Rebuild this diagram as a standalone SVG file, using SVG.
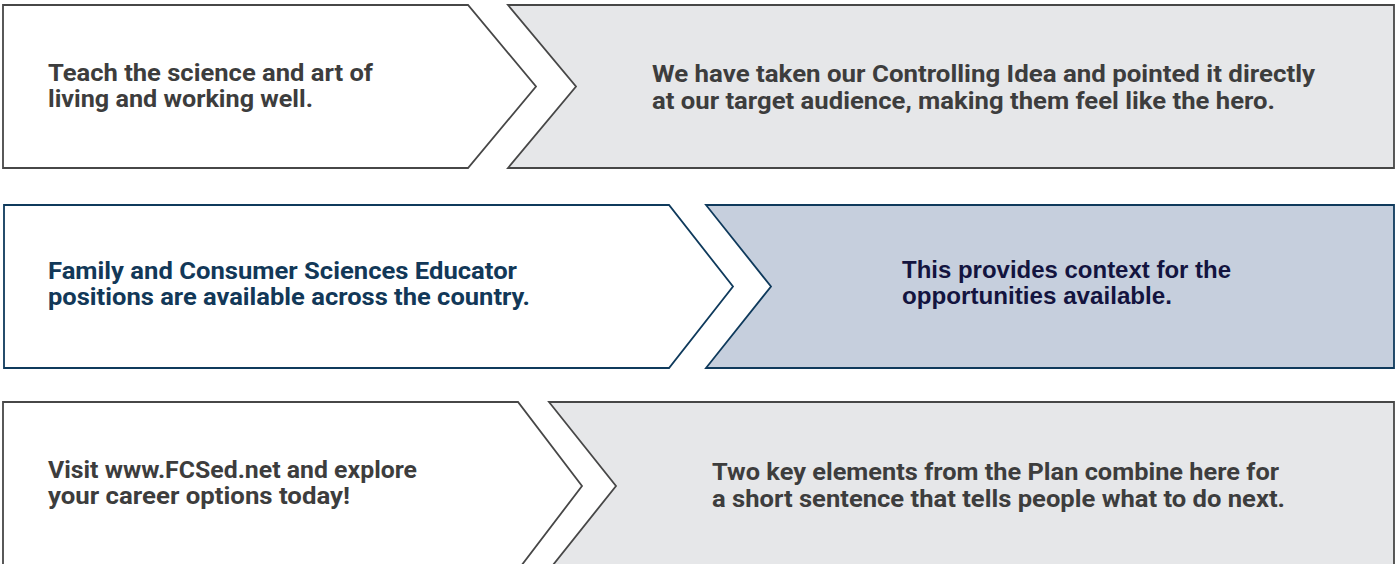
<svg xmlns="http://www.w3.org/2000/svg" width="1400" height="564" viewBox="0 0 1400 564">
<style>
.g{stroke:#474747;stroke-width:1.8;stroke-linejoin:miter}
.b{stroke:#0f3a5c;stroke-width:1.8;stroke-linejoin:miter}
.w{fill:#ffffff}
.lg{fill:#e6e7e9}
.lb{fill:#c6cfdd}
.tl{font-family:Roboto,"Liberation Sans",sans-serif;font-weight:bold;font-size:24px}
.tr{font-family:Roboto,"Liberation Sans",sans-serif;font-weight:bold;font-size:23px}
.tr2{font-family:"Liberation Sans",Arial,sans-serif;font-weight:bold;font-size:24px}
.cg{fill:#3d3d3d}
.cn{fill:#123858}
.cd{fill:#13143f}
</style>
<rect width="1400" height="564" fill="#ffffff"/>
<g id="row1-left">
<polygon class="g w" points="3,5 468,5 536,86.5 468,168 3,168"/>
<text class="tl cg" lengthAdjust="spacingAndGlyphs"><tspan x="48" y="81" textLength="325" lengthAdjust="spacingAndGlyphs">Teach the science and art of</tspan><tspan x="48" y="107" textLength="265" lengthAdjust="spacingAndGlyphs">living and working well.</tspan></text>
</g>
<g id="row1-right">
<polygon class="g lg" points="508,5 1394,5 1394,168 508,168 576,86.5"/>
<text class="tr cg"><tspan x="652" y="82" textLength="663" lengthAdjust="spacingAndGlyphs">We have taken our Controlling Idea and pointed it directly</tspan><tspan x="652" y="109" textLength="623" lengthAdjust="spacingAndGlyphs">at our target audience, making them feel like the hero.</tspan></text>
</g>
<g id="row2-left">
<polygon class="b w" points="4,205 669,205 733,286.5 669,368 4,368"/>
<text class="tl cn"><tspan x="48" y="279" textLength="469" lengthAdjust="spacingAndGlyphs">Family and Consumer Sciences Educator</tspan><tspan x="48" y="305" textLength="482" lengthAdjust="spacingAndGlyphs">positions are available across the country.</tspan></text>
</g>
<g id="row2-right">
<polygon class="b lb" points="706,205 1394,205 1394,368 706,368 771,286.5"/>
<text class="tr2 cd"><tspan x="902" y="278" textLength="329" lengthAdjust="spacingAndGlyphs">This provides context for the</tspan><tspan x="902" y="304" textLength="270" lengthAdjust="spacingAndGlyphs">opportunities available.</tspan></text>
</g>
<g id="row3-left">
<polygon class="g w" points="3,402 518,402 582,486 518,570 3,570"/>
<text class="tl cg"><tspan x="48" y="478" textLength="369" lengthAdjust="spacingAndGlyphs">Visit www.FCSed.net and explore</tspan><tspan x="48" y="504" textLength="302" lengthAdjust="spacingAndGlyphs">your career options today!</tspan></text>
</g>
<g id="row3-right">
<polygon class="g lg" points="549,402 1394,402 1394,570 549,570 616,486"/>
<text class="tr cg"><tspan x="712" y="480" textLength="567" lengthAdjust="spacingAndGlyphs">Two key elements from the Plan combine here for</tspan><tspan x="712" y="507" textLength="573" lengthAdjust="spacingAndGlyphs">a short sentence that tells people what to do next.</tspan></text>
</g>
<g id="connectors"></g>
</svg>
